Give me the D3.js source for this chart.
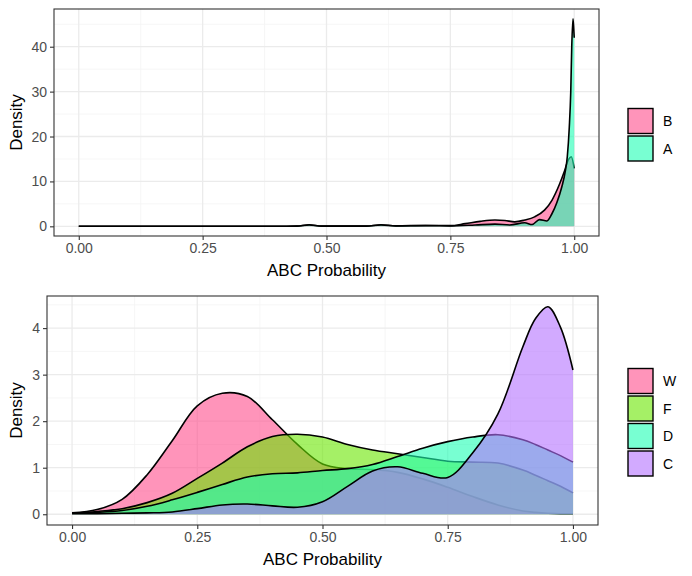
<!DOCTYPE html>
<html>
<head>
<meta charset="utf-8">
<script src="https://cdn.jsdelivr.net/npm/d3@7"></script>
<style>
  body { margin: 0; background: #fff; }
  text { font-family: "Liberation Sans", Arial, sans-serif; }
</style>
</head>
<body>
<div id="graph"></div>
<script>
let width = 692;
let height = 576;

// top panel: two groups, drawn B first then A
let topGroups = ["B", "A"];
let topProbB = [0, 0.4, 0.44, 0.465, 0.49, 0.58, 0.61, 0.64, 0.7, 0.75, 0.78, 0.81, 0.84, 0.86, 0.88, 0.9, 0.92, 0.94, 0.955, 0.97, 0.98, 0.988, 0.994, 1.0];
let topDensB = [0, 0, 0.05, 0.35, 0.05, 0.05, 0.35, 0.1, 0.2, 0.15, 0.6, 1.1, 1.4, 1.3, 1.0, 1.4, 2.1, 3.6, 5.8, 9.3, 12.2, 14.8, 15.5, 12.9];
let topProbA = [0, 0.4, 0.44, 0.465, 0.49, 0.58, 0.61, 0.64, 0.7, 0.75, 0.8, 0.84, 0.87, 0.9, 0.915, 0.93, 0.945, 0.955, 0.965, 0.975, 0.982, 0.986, 0.99, 0.993, 0.995, 0.9975, 0.999, 1.0];
let topDensA = [0, 0, 0.05, 0.3, 0.05, 0.05, 0.3, 0.1, 0.15, 0.1, 0.3, 0.5, 0.3, 0.8, 0.4, 1.5, 1.2, 2.8, 5.3, 8.8, 12.3, 15.5, 22, 30, 40, 46.2, 44, 42];

// bottom panel: four groups, drawn W, F, D, C
let bottomGroups = ["W", "F", "D", "C"];
let bottomProb = [0, 0.05, 0.1, 0.15, 0.2, 0.25, 0.3, 0.35, 0.4, 0.45, 0.5, 0.55, 0.6, 0.65, 0.7, 0.75, 0.8, 0.85, 0.9, 0.925, 0.95, 0.975, 1.0];
let densW = [0.03, 0.1, 0.32, 0.85, 1.58, 2.33, 2.6, 2.53, 2.03, 1.5, 1.08, 0.98, 0.96, 0.9, 0.76, 0.58, 0.38, 0.2, 0.07, 0.04, 0.02, 0.01, 0.01];
let densF = [0.02, 0.06, 0.12, 0.25, 0.45, 0.77, 1.1, 1.45, 1.67, 1.72, 1.66, 1.5, 1.38, 1.3, 1.22, 1.14, 1.12, 1.1, 0.95, 0.84, 0.72, 0.6, 0.46];
let densD = [0.02, 0.04, 0.08, 0.17, 0.31, 0.47, 0.64, 0.8, 0.87, 0.89, 0.94, 0.98, 1.07, 1.24, 1.42, 1.56, 1.66, 1.71, 1.6, 1.5, 1.38, 1.26, 1.12];
let densC = [0.01, 0.01, 0.02, 0.03, 0.05, 0.12, 0.2, 0.22, 0.18, 0.15, 0.27, 0.6, 0.93, 1.02, 0.88, 0.79, 1.32, 2.15, 3.6, 4.2, 4.46, 4.02, 3.1];

let xTicks = [0, 0.25, 0.5, 0.75, 1];
let xMinor = [0.125, 0.375, 0.625, 0.875];
let topYTicks = [0, 10, 20, 30, 40];
let topYMinor = [5, 15, 25, 35, 45];
let bottomYTicks = [0, 1, 2, 3, 4];
let bottomYMinor = [0.5, 1.5, 2.5, 3.5, 4.5];

let fills = {
  B: "#FF4D8C", A: "#1EFFB4",
  W: "#FF4D8C", F: "#69E600", D: "#1EFFB4", C: "#B471FF"
};
let alpha = 0.6;

let svg = d3.select("#graph").append("svg")
  .attr("width", width)
  .attr("height", height);

var drawPanel = function(cfg) {
  let x = d3.scaleLinear().domain([-0.05, 1.05]).range([cfg.left, cfg.right]);
  let y = d3.scaleLinear().domain(cfg.yDomain).range([cfg.bottom, cfg.top]);

  let g = svg.append("g");

  // grid
  g.selectAll(".xminor").data(xMinor).enter().append("line")
    .attr("x1", d => x(d)).attr("x2", d => x(d))
    .attr("y1", cfg.top).attr("y2", cfg.bottom)
    .attr("stroke", "#F4F4F4").attr("stroke-width", 0.8);
  g.selectAll(".yminor").data(cfg.yMinor).enter().append("line")
    .attr("x1", cfg.left).attr("x2", cfg.right)
    .attr("y1", d => y(d)).attr("y2", d => y(d))
    .attr("stroke", "#F4F4F4").attr("stroke-width", 0.8);
  g.selectAll(".xmajor").data(xTicks).enter().append("line")
    .attr("x1", d => x(d)).attr("x2", d => x(d))
    .attr("y1", cfg.top).attr("y2", cfg.bottom)
    .attr("stroke", "#EBEBEB").attr("stroke-width", 1.3);
  g.selectAll(".ymajor").data(cfg.yTicks).enter().append("line")
    .attr("x1", cfg.left).attr("x2", cfg.right)
    .attr("y1", d => y(d)).attr("y2", d => y(d))
    .attr("stroke", "#EBEBEB").attr("stroke-width", 1.3);

  // densities, outline only on the upper edge
  let area = d3.area()
    .x(d => x(d[0])).y0(y(0)).y1(d => y(d[1]))
    .curve(cfg.curve);
  let line = d3.line()
    .x(d => x(d[0])).y(d => y(d[1]))
    .curve(cfg.curve);

  cfg.series.forEach(s => {
    let pts = s.prob.map((p, i) => [p, s.dens[i]]);
    g.append("path").attr("d", area(pts))
      .attr("fill", fills[s.name]).attr("fill-opacity", alpha);
    g.append("path").attr("d", line(pts))
      .attr("fill", "none").attr("stroke", "#000").attr("stroke-width", 1.6)
      .attr("stroke-linejoin", "round");
  });

  // panel border
  g.append("rect")
    .attr("x", cfg.left).attr("y", cfg.top)
    .attr("width", cfg.right - cfg.left).attr("height", cfg.bottom - cfg.top)
    .attr("fill", "none").attr("stroke", "#333333").attr("stroke-width", 1.1);

  // axes
  let xAxis = g.append("g")
    .attr("transform", "translate(0," + cfg.bottom + ")")
    .call(d3.axisBottom(x).tickValues(xTicks).tickFormat(d3.format(".2f")).tickSizeOuter(0).tickSize(4).tickPadding(3));
  let yAxis = g.append("g")
    .attr("transform", "translate(" + cfg.left + ",0)")
    .call(d3.axisLeft(y).tickValues(cfg.yTicks).tickFormat(d3.format("d")).tickSizeOuter(0).tickSize(4).tickPadding(3));
  [xAxis, yAxis].forEach(a => {
    a.select(".domain").remove();
    a.selectAll(".tick line").attr("stroke", "#333333").attr("stroke-width", 1.1);
    a.selectAll(".tick text").attr("fill", "#4D4D4D").style("font-size", "14px")
      .style("font-family", "Liberation Sans, Arial, sans-serif");
  });

  g.append("text")
    .attr("x", (cfg.left + cfg.right) / 2).attr("y", cfg.bottom + 40)
    .attr("text-anchor", "middle").style("font-size", "17px")
    .text("ABC Probability");
  g.append("text")
    .attr("transform", "translate(22," + ((cfg.top + cfg.bottom) / 2) + ") rotate(-90)")
    .attr("text-anchor", "middle").style("font-size", "17px")
    .text("Density");

  // legend, groups listed in drawing order
  let keySize = 25, keyStep = 27.5;
  let leg = g.selectAll(".key").data(cfg.series.map(s => s.name)).enter().append("g")
    .attr("transform", (d, i) => "translate(628," + (cfg.legendTop + i * keyStep) + ")");
  leg.append("rect").attr("width", keySize).attr("height", keySize).attr("fill", "#fff");
  leg.append("rect").attr("width", keySize).attr("height", keySize)
    .attr("fill", d => fills[d]).attr("fill-opacity", alpha)
    .attr("stroke", "#000").attr("stroke-width", 1.4);
  leg.append("text")
    .attr("x", keySize + 10).attr("y", keySize / 2 + 5)
    .style("font-size", "14px")
    .text(d => d);
};

drawPanel({
  left: 54, right: 599, top: 9, bottom: 236,
  yDomain: [-2.155, 48.4],
  yTicks: topYTicks, yMinor: topYMinor,
  legendTop: 108.5,
  curve: d3.curveMonotoneX,
  series: [
    { name: "B", prob: topProbB, dens: topDensB },
    { name: "A", prob: topProbA, dens: topDensA }
  ]
});

drawPanel({
  left: 47, right: 598, top: 296, bottom: 525,
  yDomain: [-0.231, 4.69],
  yTicks: bottomYTicks, yMinor: bottomYMinor,
  legendTop: 368.5,
  curve: d3.curveCatmullRom.alpha(0.5),
  series: [
    { name: "W", prob: bottomProb, dens: densW },
    { name: "F", prob: bottomProb, dens: densF },
    { name: "D", prob: bottomProb, dens: densD },
    { name: "C", prob: bottomProb, dens: densC }
  ]
});
</script>
</body>
</html>
